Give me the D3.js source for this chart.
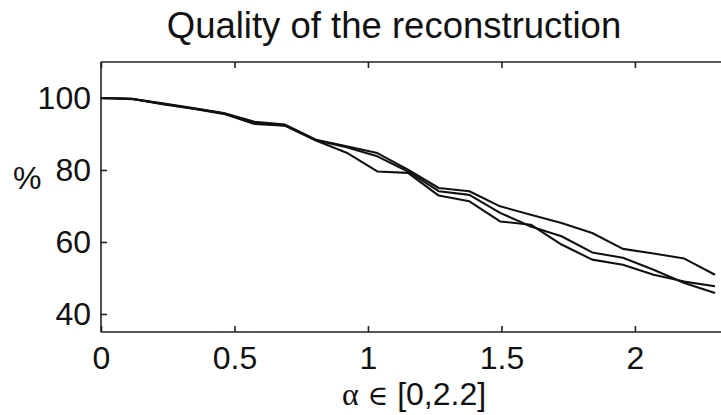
<!DOCTYPE html>
<html>
<head>
<meta charset="utf-8">
<script src="https://cdn.jsdelivr.net/npm/d3@7"></script>
<style>
  html, body { margin: 0; padding: 0; background: #fff; }
  svg { display: block; }
  text { font-family: "Liberation Sans", Arial, Helvetica, sans-serif; fill: #111; }
</style>
</head>
<body>
<svg id="chart" width="721" height="415"></svg>
<script>
// Sample positions of the parameter alpha
const alphas = [0, 0.115, 0.23, 0.345, 0.46, 0.575, 0.69, 0.805, 0.92, 1.035, 1.15,
                1.265, 1.38, 1.495, 1.61, 1.725, 1.84, 1.955, 2.07, 2.185, 2.3];

// Reconstruction quality (%) for three runs
const runA = [100, 99.8, 98.5, 97.2, 95.8, 93.4, 92.6, 88.4, 86.6, 84.7, 80.1,
              75.0, 74.1, 69.9, 67.6, 65.3, 62.5, 58.1, 56.8, 55.4, 50.9];
const runB = [100, 99.7, 98.4, 97.1, 95.7, 93.0, 92.4, 88.3, 86.3, 83.8, 79.6,
              74.1, 73.1, 68.1, 64.3, 61.6, 57.1, 55.6, 52.3, 48.6, 45.8];
const runC = [100, 99.8, 98.3, 97.0, 95.6, 92.8, 92.3, 88.2, 84.8, 79.6, 79.2,
              72.9, 71.3, 65.7, 64.8, 59.3, 55.1, 53.7, 50.9, 49.0, 47.7];

const xTicks = [0, 0.5, 1, 1.5, 2];
const yTicks = [40, 60, 80, 100];

const titleText = "Quality of the reconstruction";
const yLabelText = "%";

const svg = d3.select("#chart");

const padL = 101, padR = 715, padT = 62, padB = 332;
const x = d3.scaleLinear().domain([0, 2.3]).range([padL, padR]);
const y = d3.scaleLinear().domain([35, 110]).range([padB, padT]);

// Frame: left, bottom and top borders (right border lies past the canvas)
const frame = svg.append("g").attr("stroke", "#222").attr("stroke-width", 1.6).attr("fill", "none");
frame.append("line").attr("x1", padL).attr("x2", padL).attr("y1", padT).attr("y2", padB);
frame.append("line").attr("x1", padL).attr("x2", 730).attr("y1", padB).attr("y2", padB);
frame.append("line").attr("x1", padL).attr("x2", 730).attr("y1", padT).attr("y2", padT);

// Inward ticks
const tickLen = 6;
const xAxisBottom = d3.axisBottom(x).tickValues(xTicks).tickSize(-tickLen).tickPadding(14)
  .tickFormat(d3.format("~g"));
const gxb = svg.append("g").attr("transform", `translate(0,${padB})`).call(xAxisBottom);
gxb.select(".domain").remove();
gxb.selectAll("line").attr("stroke", "#222").attr("stroke-width", 1.6);
gxb.selectAll("text").attr("font-size", 32).attr("font-family", "Liberation Sans, Arial, sans-serif")
  .attr("fill", "#111").attr("dy", "0.71em");

const xAxisTop = d3.axisTop(x).tickValues(xTicks).tickSize(-tickLen).tickFormat("");
const gxt = svg.append("g").attr("transform", `translate(0,${padT})`).call(xAxisTop);
gxt.select(".domain").remove();
gxt.selectAll("line").attr("stroke", "#222").attr("stroke-width", 1.6);

const yAxis = d3.axisLeft(y).tickValues(yTicks).tickSize(-tickLen).tickPadding(10);
const gy = svg.append("g").attr("transform", `translate(${padL},0)`).call(yAxis);
gy.select(".domain").remove();
gy.selectAll("line").attr("stroke", "#222").attr("stroke-width", 1.6);
gy.selectAll("text").attr("font-size", 32).attr("font-family", "Liberation Sans, Arial, sans-serif")
  .attr("fill", "#111");

// Curves
const line = d3.line().x((d, i) => x(alphas[i])).y(d => y(d));
const plot = svg.append("g").attr("fill", "none").attr("stroke", "#111")
  .attr("stroke-width", 2.1).attr("stroke-linejoin", "round");
[runA, runB, runC].forEach(run => plot.append("path").attr("d", line(run)));

// Title
svg.append("text").attr("x", 394).attr("y", 38).attr("text-anchor", "middle")
  .attr("font-size", 36.5).text(titleText);

// Y label
svg.append("text").attr("x", 13).attr("y", 189).attr("font-size", 32).text(yLabelText);

// X label
const xl = svg.append("text").attr("x", 414).attr("y", 405).attr("text-anchor", "middle")
  .attr("font-size", 32);
xl.append("tspan").attr("font-family", "Liberation Serif, DejaVu Serif, serif").text("\u03B1");
xl.append("tspan").attr("font-family", "DejaVu Serif, serif").attr("font-size", 28).text(" \u2208 ");
xl.append("tspan").text("[0,2.2]");
</script>
</body>
</html>
